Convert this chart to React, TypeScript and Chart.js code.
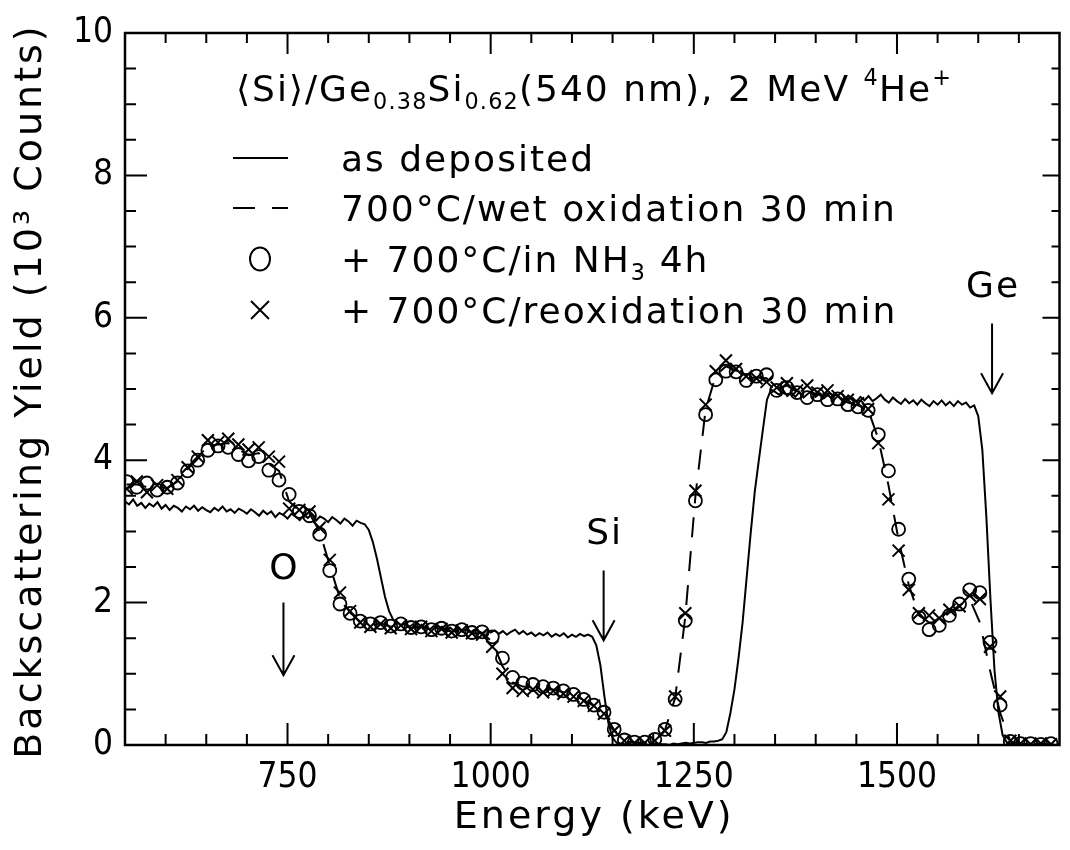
import React, { useEffect, useRef } from 'react';
import { Chart, registerables } from 'chart.js';

Chart.register(...registerables);

const FONT = '"DejaVu Sans", sans-serif';
const TICK_FONT = '"DejaVu Sans Condensed", "DejaVu Sans", sans-serif';

const X_MIN = 550;
const X_MAX = 1700;
const Y_MIN = 0;
const Y_MAX = 10;
const xMajorTicks = [750, 1000, 1250, 1500];
const yMajorTicks = [0, 2, 4, 6, 8, 10];

// "as deposited" spectrum: channel energies start at 550 keV, 5 keV per channel
const asDepositedStart = 550;
const asDepositedStep = 5;
const asDeposited = [
  3.42, 3.38, 3.45, 3.36, 3.40, 3.33, 3.39, 3.35, 3.41, 3.32,
  3.37, 3.30, 3.36, 3.33, 3.28, 3.35, 3.31, 3.36, 3.29, 3.34,
  3.30, 3.27, 3.33, 3.29, 3.35, 3.28, 3.31, 3.26, 3.32, 3.29,
  3.25, 3.31, 3.27, 3.22, 3.29, 3.24, 3.28, 3.20, 3.26, 3.23,
  3.18, 3.25, 3.21, 3.16, 3.23, 3.19, 3.24, 3.15, 3.21, 3.18,
  3.13, 3.20, 3.16, 3.11, 3.18, 3.14, 3.08, 3.15, 3.12, 3.10,
  3.02, 2.85, 2.62, 2.35, 2.08, 1.88, 1.76,
  1.72, 1.68, 1.71, 1.66, 1.70, 1.64, 1.69, 1.65, 1.62, 1.67,
  1.63, 1.66, 1.61, 1.65, 1.60, 1.64, 1.59, 1.63, 1.58, 1.62,
  1.60, 1.57, 1.62, 1.58, 1.61, 1.56, 1.60, 1.55, 1.59, 1.62,
  1.56, 1.60, 1.55, 1.58, 1.53, 1.57, 1.54, 1.58, 1.52, 1.56,
  1.53, 1.57, 1.51, 1.55, 1.52, 1.56, 1.53, 1.55, 1.52,
  1.40, 1.12, 0.68, 0.30, 0.10, 0.03,
  0.02, 0.01, 0.02, 0.00, 0.01, 0.02, 0.01, 0.00, 0.01, 0.02,
  0.01, 0.01, 0.00, 0.02, 0.01, 0.02, 0.03, 0.02, 0.03, 0.04,
  0.04, 0.03, 0.05, 0.05, 0.06,
  0.08, 0.18, 0.45, 0.78, 1.22, 1.72, 2.35, 2.98, 3.56, 4.00, 4.43, 4.85, 4.99,
  4.96, 4.92, 4.98, 4.90, 4.95, 4.89, 4.96, 4.88, 4.93, 4.97,
  4.89, 4.94, 4.87, 4.92, 4.86, 4.93, 4.88, 4.84, 4.91, 4.86,
  4.82, 4.89, 4.84, 4.90, 4.83, 4.87, 4.92, 4.85, 4.81, 4.88,
  4.83, 4.79, 4.86, 4.80, 4.84, 4.78, 4.85, 4.80, 4.76, 4.83,
  4.78, 4.84, 4.77, 4.82, 4.76, 4.83, 4.78, 4.81, 4.74, 4.77,
  4.62, 4.15, 3.20, 2.05, 1.05, 0.45, 0.14, 0.04,
  0.02, 0.01, 0.01, 0.02, 0.01, 0.00, 0.01, 0.01, 0.02, 0.01, 0.01, 0.00, 0.01,
];

// treated samples: channel energies start at 552 keV, 12.5 keV per channel
const markerStart = 552;
const markerStep = 12.5;
const wetOxidation = [
  3.66, 3.66, 3.62, 3.62, 3.61, 3.70, 3.88, 4.02, 4.20, 4.22,
  4.24, 4.15, 4.07, 4.10, 3.95, 3.85, 3.42, 3.29, 3.25, 3.00,
  2.52, 2.06, 1.86, 1.73, 1.68, 1.71, 1.66, 1.69, 1.64, 1.66,
  1.61, 1.63, 1.59, 1.61, 1.57, 1.57, 1.45, 1.11, 0.88, 0.82,
  0.81, 0.78, 0.78, 0.74, 0.70, 0.63, 0.55, 0.45, 0.21, 0.06,
  0.03, 0.03, 0.07, 0.21, 0.66, 1.80, 3.50, 4.71, 5.19, 5.32,
  5.26, 5.15, 5.16, 5.15, 5.00, 5.05, 4.96, 4.96, 4.93, 4.91,
  4.88, 4.81, 4.77, 4.71, 4.30, 3.65, 2.88, 2.25, 1.82, 1.72,
  1.73, 1.86, 1.96, 2.05, 1.72, 1.05, 0.45, 0.05, 0.02, 0.02,
  0.01, 0.01,
];
const nh3Anneal = [
  3.70, 3.62, 3.68, 3.58, 3.62, 3.68, 3.85, 4.00, 4.14, 4.20,
  4.18, 4.08, 3.99, 4.05, 3.86, 3.72, 3.52, 3.28, 3.22, 2.96,
  2.45, 1.98, 1.85, 1.74, 1.70, 1.72, 1.67, 1.70, 1.65, 1.66,
  1.62, 1.64, 1.60, 1.62, 1.58, 1.59, 1.52, 1.22, 0.95, 0.87,
  0.85, 0.82, 0.80, 0.76, 0.71, 0.64, 0.56, 0.46, 0.22, 0.07,
  0.04, 0.04, 0.08, 0.22, 0.64, 1.75, 3.43, 4.64, 5.13, 5.25,
  5.24, 5.12, 5.18, 5.20, 4.98, 5.02, 4.95, 4.88, 4.92, 4.85,
  4.86, 4.78, 4.75, 4.70, 4.36, 3.85, 3.03, 2.33, 1.79, 1.62,
  1.68, 1.82, 1.98, 2.18, 2.14, 1.44, 0.56, 0.05, 0.02, 0.02,
  0.01, 0.02,
];
const reoxidation = [
  3.60, 3.70, 3.55, 3.65, 3.60, 3.72, 3.90, 4.05, 4.28, 4.25,
  4.30, 4.22, 4.15, 4.18, 4.05, 3.98, 3.32, 3.30, 3.28, 3.05,
  2.60, 2.14, 1.88, 1.72, 1.66, 1.70, 1.64, 1.68, 1.63, 1.66,
  1.60, 1.63, 1.58, 1.61, 1.57, 1.55, 1.38, 1.00, 0.80, 0.76,
  0.78, 0.74, 0.76, 0.72, 0.68, 0.62, 0.55, 0.44, 0.20, 0.06,
  0.03, 0.03, 0.06, 0.20, 0.68, 1.85, 3.57, 4.78, 5.25, 5.40,
  5.28, 5.18, 5.15, 5.10, 5.02, 5.08, 4.98, 5.05, 4.95, 4.98,
  4.90, 4.85, 4.80, 4.72, 4.24, 3.45, 2.73, 2.18, 1.85, 1.82,
  1.78, 1.90, 1.95, 2.10, 2.05, 1.38, 0.68, 0.06, 0.02, 0.01,
  0.02, 0.01,
];

const seriesLabels = [
  'as deposited',
  '700°C/wet oxidation 30 min',
  '+ 700°C/in NH₃ 4h',
  '+ 700°C/reoxidation 30 min',
];

const xTitle = 'Energy (keV)';
const yTitle = 'Backscattering Yield (10³ Counts)';

// surface-edge markers: energy (keV), label height, arrow start and tip (10³ counts)
const edgeMarkers = [
  { label: 'O', energy: 745, textY: 2.46, fromY: 2.0, toY: 0.98 },
  { label: 'Si', energy: 1139, textY: 2.95, fromY: 2.45, toY: 1.47 },
  { label: 'Ge', energy: 1617, textY: 6.42, fromY: 5.92, toY: 4.94 },
];

type Part = { t: string; s?: 'sub' | 'sup' };

function drawRich(ctx: any, x: number, y: number, parts: Part[], size: number, spacing: number) {
  let cx = x;
  ctx.textAlign = 'left';
  ctx.textBaseline = 'alphabetic';
  for (const p of parts) {
    const sz = p.s ? size * 0.62 : size;
    ctx.font = `${sz}px ${FONT}`;
    ctx.letterSpacing = `${p.s ? spacing * 0.6 : spacing}px`;
    const dy = p.s === 'sub' ? size * 0.22 : p.s === 'sup' ? -size * 0.45 : 0;
    ctx.fillText(p.t, cx, y + dy);
    cx += ctx.measureText(p.t).width;
  }
  ctx.letterSpacing = '0px';
}

const toPoints = (start: number, step: number, values: number[]) =>
  values.map((v, i) => ({ x: start + step * i, y: v }));

export default function App() {
  const ref = useRef<HTMLCanvasElement>(null);

  useEffect(() => {
    const canvas = ref.current;
    if (!canvas) return;

    const decor = {
      id: 'decor',
      afterDraw(chart: any) {
        const { ctx, chartArea: a } = chart;
        const xs = chart.scales.x;
        const ys = chart.scales.y;
        ctx.save();
        ctx.strokeStyle = '#000';
        ctx.fillStyle = '#000';
        ctx.setLineDash([]);

        // frame
        ctx.lineWidth = 2.5;
        ctx.strokeRect(a.left, a.top, a.right - a.left, a.bottom - a.top);

        // inward ticks on all four sides
        ctx.lineWidth = 2;
        ctx.beginPath();
        for (let v = X_MIN + 50; v < X_MAX; v += 50) {
          const px = xs.getPixelForValue(v);
          const major = xMajorTicks.includes(v);
          ctx.moveTo(px, a.bottom);
          ctx.lineTo(px, a.bottom - (major ? 22 : 11));
          ctx.moveTo(px, a.top);
          ctx.lineTo(px, a.top + (major ? 21 : 10));
        }
        for (let v = Y_MIN + 0.5; v < Y_MAX; v += 0.5) {
          const py = ys.getPixelForValue(v);
          const major = yMajorTicks.includes(v);
          ctx.moveTo(a.left, py);
          ctx.lineTo(a.left + (major ? 22 : 11), py);
          ctx.moveTo(a.right, py);
          ctx.lineTo(a.right - (major ? 17 : 8), py);
        }
        ctx.stroke();

        // axis titles
        ctx.font = `38px ${FONT}`;
        ctx.letterSpacing = '3px';
        ctx.textAlign = 'center';
        ctx.textBaseline = 'middle';
        ctx.fillText(xTitle, (a.left + a.right) / 2 + 2, 818);
        ctx.save();
        ctx.translate(31, (a.top + a.bottom) / 2 + 2);
        ctx.rotate(-Math.PI / 2);
        ctx.fillText(yTitle, 0, 0);
        ctx.restore();

        // edge markers with arrows
        ctx.font = `36px ${FONT}`;
        ctx.letterSpacing = '2px';
        ctx.lineWidth = 2;
        for (const m of edgeMarkers) {
          const px = xs.getPixelForValue(m.energy);
          ctx.fillText(m.label, px + 1, ys.getPixelForValue(m.textY));
          const y0 = ys.getPixelForValue(m.fromY);
          const y1 = ys.getPixelForValue(m.toY);
          ctx.beginPath();
          ctx.moveTo(px, y0);
          ctx.lineTo(px, y1);
          ctx.moveTo(px - 11, y1 - 20);
          ctx.lineTo(px, y1);
          ctx.lineTo(px + 11, y1 - 20);
          ctx.stroke();
        }
        ctx.letterSpacing = '0px';

        // header
        drawRich(ctx, 236, 101, [
          { t: '⟨Si⟩/Ge' }, { t: '0.38', s: 'sub' }, { t: 'Si' }, { t: '0.62', s: 'sub' },
          { t: '(540 nm), 2 MeV ' }, { t: '4', s: 'sup' }, { t: 'He' }, { t: '+', s: 'sup' },
        ], 36, 2);

        // legend
        const rows = [158, 208, 259, 310];
        const symX0 = 233, symX1 = 288, symC = 260, textX = 341;
        ctx.lineWidth = 2;
        ctx.beginPath();
        ctx.moveTo(symX0, rows[0]);
        ctx.lineTo(symX1, rows[0]);
        ctx.stroke();
        ctx.setLineDash([22, 17]);
        ctx.beginPath();
        ctx.moveTo(symX0, rows[1]);
        ctx.lineTo(symX1, rows[1]);
        ctx.stroke();
        ctx.setLineDash([]);
        ctx.beginPath();
        ctx.ellipse(symC, rows[2], 10, 11.5, 0, 0, Math.PI * 2);
        ctx.stroke();
        ctx.beginPath();
        ctx.moveTo(symC - 9, rows[3] - 9);
        ctx.lineTo(symC + 9, rows[3] + 9);
        ctx.moveTo(symC + 9, rows[3] - 9);
        ctx.lineTo(symC - 9, rows[3] + 9);
        ctx.stroke();

        const base = 13;
        drawRich(ctx, textX, rows[0] + base, [{ t: seriesLabels[0] }], 36, 2);
        drawRich(ctx, textX, rows[1] + base, [{ t: seriesLabels[1] }], 36, 2);
        drawRich(ctx, textX, rows[2] + base, [{ t: '+ 700°C/in NH' }, { t: '3', s: 'sub' }, { t: ' 4h' }], 36, 2);
        drawRich(ctx, textX, rows[3] + base, [{ t: seriesLabels[3] }], 36, 2);
        ctx.restore();
      },
    };

    const chart = new Chart(canvas, {
      type: 'line',
      data: {
        datasets: [
          {
            label: seriesLabels[0],
            data: toPoints(asDepositedStart, asDepositedStep, asDeposited),
            borderColor: '#000',
            borderWidth: 2,
            pointRadius: 0,
            tension: 0,
          },
          {
            label: seriesLabels[1],
            data: toPoints(markerStart, markerStep, wetOxidation),
            borderColor: '#000',
            borderWidth: 2,
            borderDash: [20, 14],
            pointRadius: 0,
            tension: 0,
          },
          {
            label: seriesLabels[2],
            data: toPoints(markerStart, markerStep, nh3Anneal),
            showLine: false,
            borderColor: '#000',
            backgroundColor: 'rgba(0,0,0,0)',
            pointStyle: 'circle',
            pointRadius: 6.5,
            pointBorderWidth: 1.8,
          },
          {
            label: seriesLabels[3],
            data: toPoints(markerStart, markerStep, reoxidation),
            showLine: false,
            borderColor: '#000',
            backgroundColor: 'rgba(0,0,0,0)',
            pointStyle: 'crossRot',
            pointRadius: 8.5,
            pointBorderWidth: 2,
          },
        ],
      },
      options: {
        responsive: false,
        animation: false,
        devicePixelRatio: 1,
        layout: { padding: { top: 28, right: 4, left: 0, bottom: 0 } },
        plugins: {
          legend: { display: false },
          tooltip: { enabled: false },
        },
        scales: {
          x: {
            type: 'linear',
            min: X_MIN,
            max: X_MAX,
            afterBuildTicks: (s: any) => {
              s.ticks = xMajorTicks.map((v) => ({ value: v }));
            },
            afterFit: (s: any) => {
              s.height = 105;
            },
            grid: { display: false, drawTicks: false },
            border: { display: false },
            ticks: {
              color: '#000',
              font: { family: TICK_FONT, size: 35 },
              padding: 12,
              maxRotation: 0,
              autoSkip: false,
              callback: (v: any) => String(v),
            },
            title: { display: false },
          },
          y: {
            type: 'linear',
            min: Y_MIN,
            max: Y_MAX,
            afterBuildTicks: (s: any) => {
              s.ticks = yMajorTicks.map((v) => ({ value: v }));
            },
            afterFit: (s: any) => {
              s.width = 125;
            },
            grid: { display: false, drawTicks: false },
            border: { display: false },
            ticks: {
              color: '#000',
              font: { family: TICK_FONT, size: 35 },
              padding: 12,
              callback: (v: any) => String(v),
            },
            title: { display: false },
          },
        },
      },
      plugins: [decor],
    } as any);

    return () => chart.destroy();
  }, []);

  return (
    <div style={{ position: 'fixed', left: 0, top: 0, width: 1070, height: 850, background: '#fff' }}>
      <canvas ref={ref} width={1070} height={850} style={{ display: 'block', width: 1070, height: 850 }} />
    </div>
  );
}
